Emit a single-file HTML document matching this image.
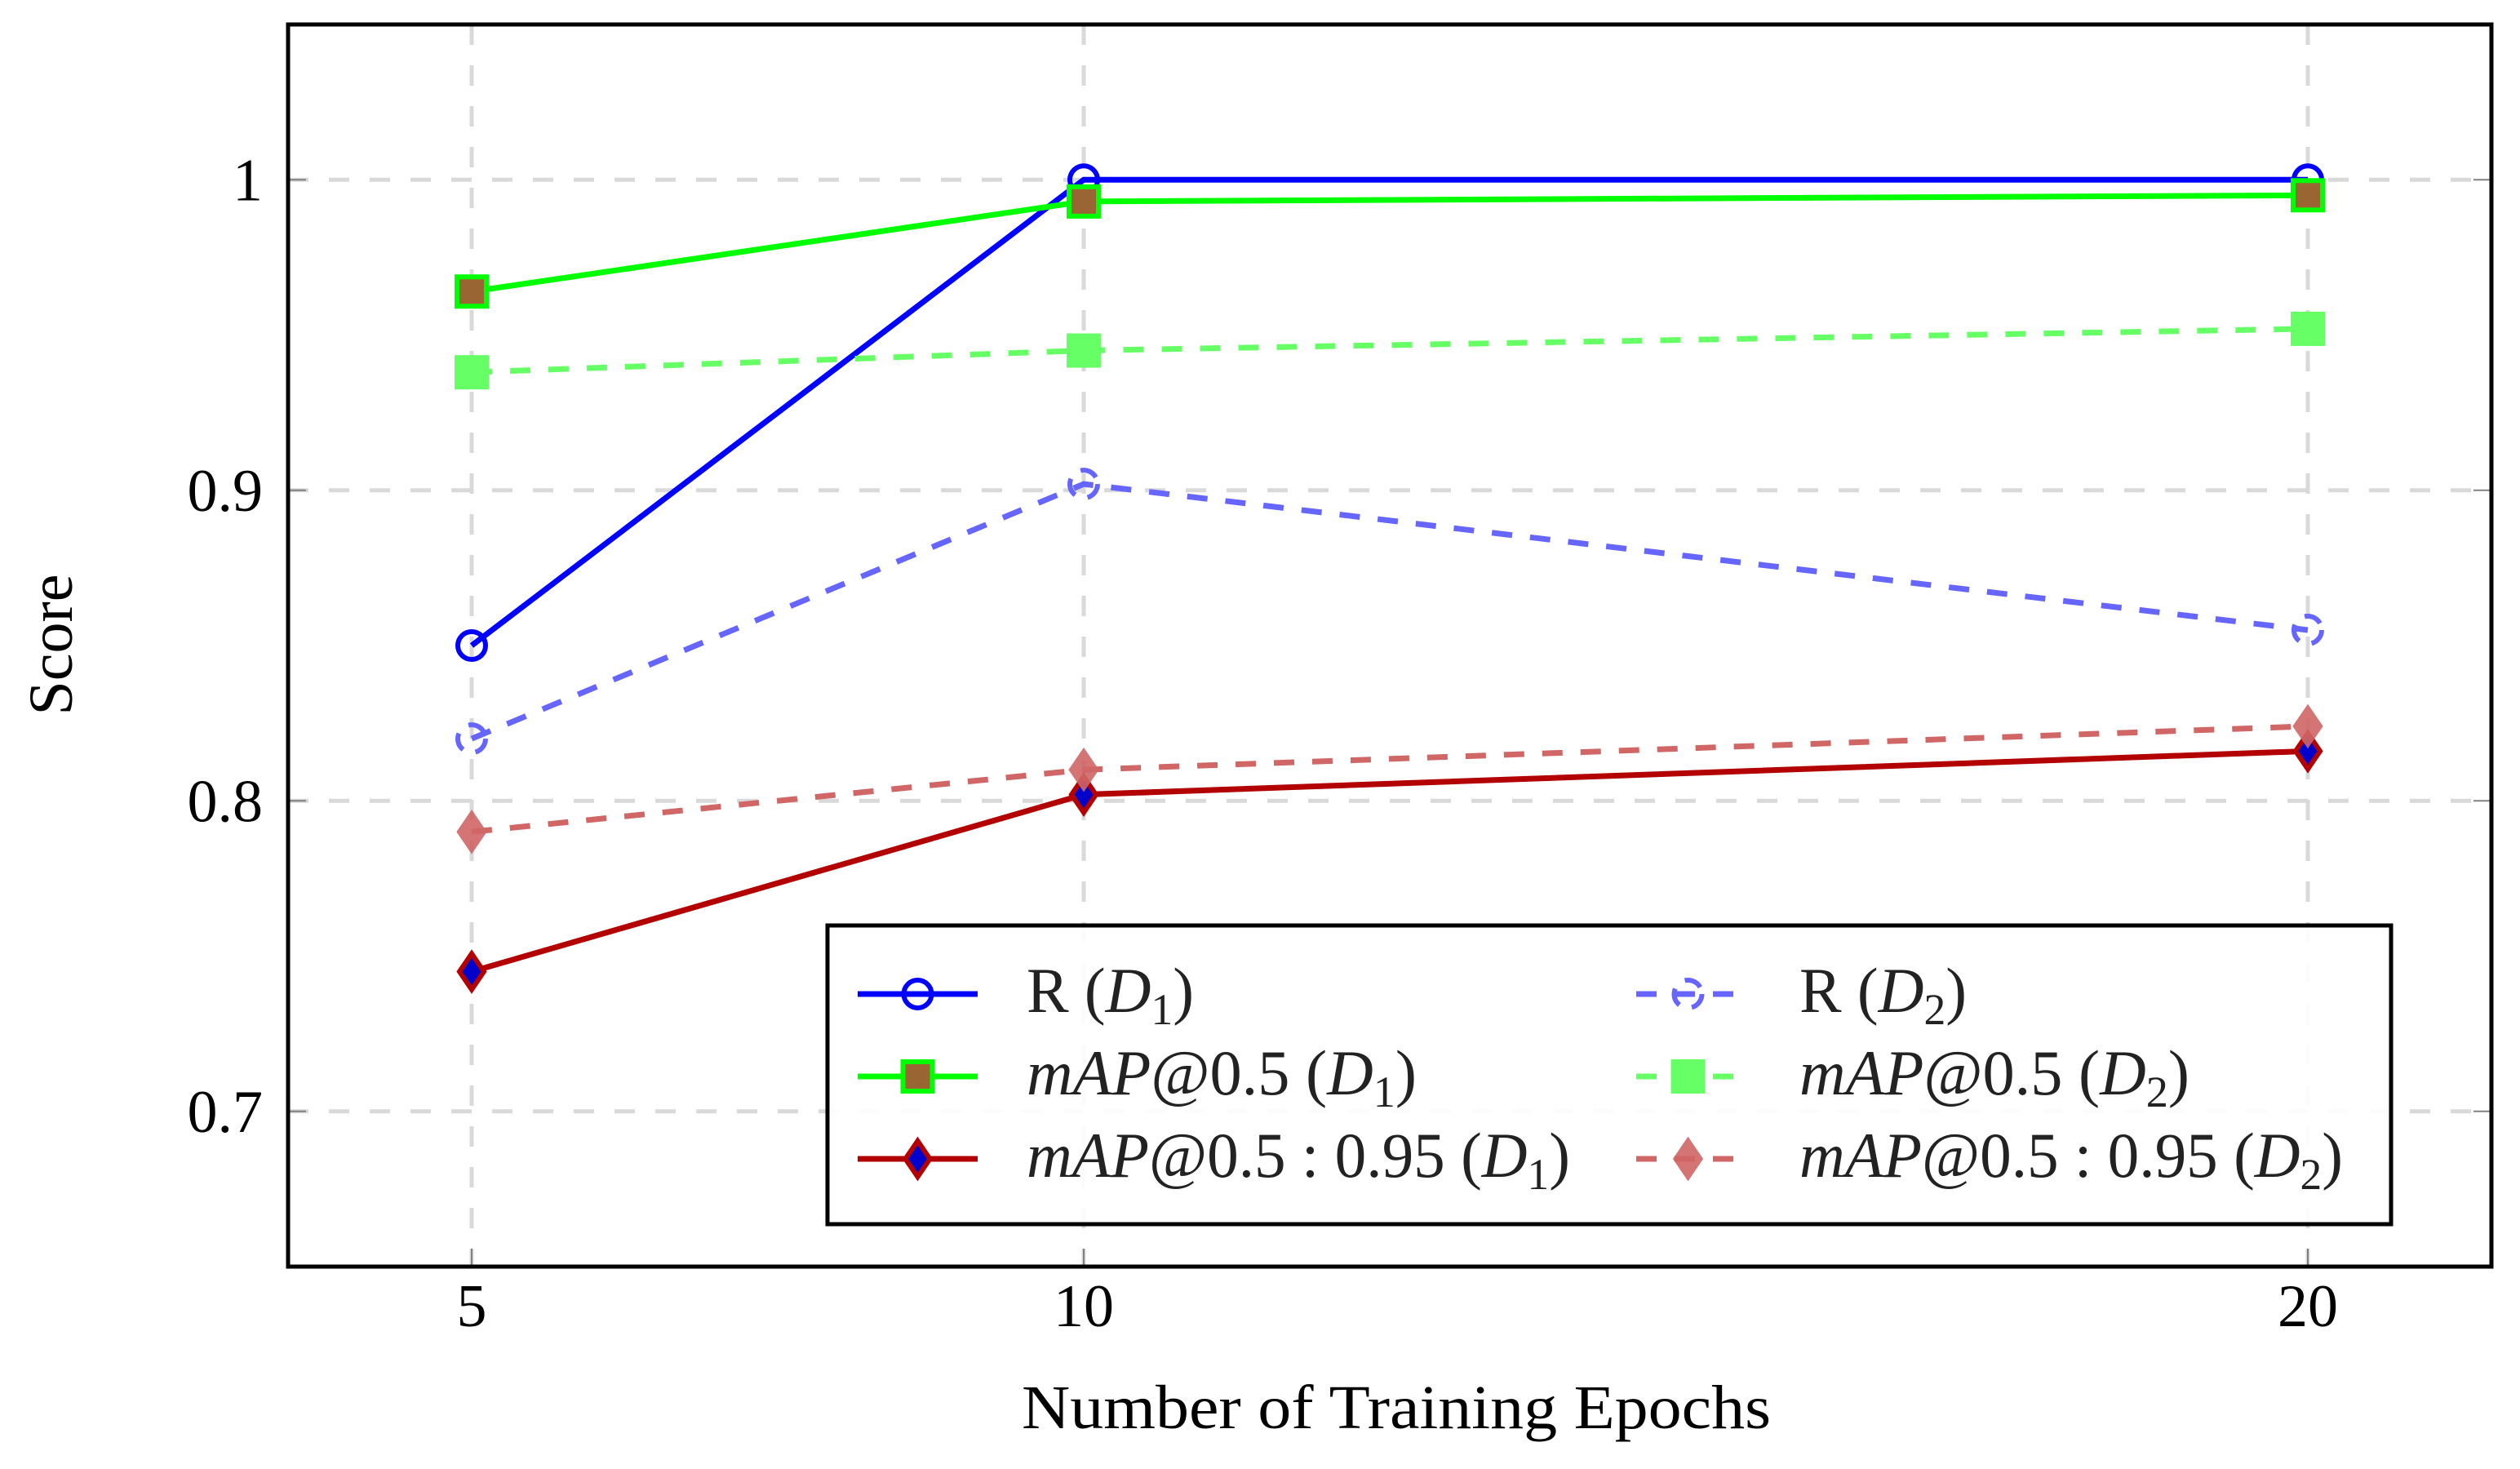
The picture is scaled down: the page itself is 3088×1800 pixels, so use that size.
<!DOCTYPE html>
<html><head><meta charset="utf-8"><style>
html,body{margin:0;padding:0;background:#fff;}
svg{display:block;font-family:"Liberation Serif",serif;}
</style></head><body>
<svg id="chart" width="3088" height="1800" viewBox="0 0 3088 1800" xmlns="http://www.w3.org/2000/svg">
<g id="grid"></g>
<g id="series"></g>
<g id="axes"></g>
<g id="legend"></g>
<text x="1252" y="1750" font-size="76" textLength="918" lengthAdjust="spacingAndGlyphs">Number of Training Epochs</text>
<text x="0" y="0" font-size="76" text-anchor="middle" transform="translate(88,790) rotate(-90)">Score</text>
</svg>
<script>
const epochs = [5, 10, 20];
const xTicks = [5, 10, 20];
const yTicks = [0.7, 0.8, 0.9, 1];
const yTickLabels = ["0.7", "0.8", "0.9", "1"];
const rD1 = [0.850, 1.000, 1.000];
const rD2 = [0.820, 0.902, 0.855];
const mapD1 = [0.964, 0.993, 0.995];
const mapD2 = [0.938, 0.945, 0.952];
const map95D1 = [0.745, 0.802, 0.816];
const map95D2 = [0.790, 0.810, 0.824];

const NS = "http://www.w3.org/2000/svg";
const L = 353, R = 3053, T = 30, B = 1552;
const xMin = 3.5, xMax = 21.5, yMin = 0.65, yMax = 1.05;
const sx = v => L + (v - xMin) / (xMax - xMin) * (R - L);
const sy = v => B - (v - yMin) / (yMax - yMin) * (B - T);
function mk(tag, attrs, parent) {
  const e = document.createElementNS(NS, tag);
  for (const k in attrs) e.setAttribute(k, attrs[k]);
  parent.appendChild(e);
  return e;
}
const grid = document.getElementById('grid');
const axes = document.getElementById('axes');
const series = document.getElementById('series');
const legend = document.getElementById('legend');

xTicks.forEach(t => {
  const g = mk('line', {x1: sx(t), x2: sx(t), y1: T, y2: B, stroke: '#d9d9d9', 'stroke-width': 5, 'stroke-dasharray': '25 25'}, grid);
  
  
  const tk = mk('line', {x1: sx(t), x2: sx(t), y1: B, y2: B - 22, stroke: '#808080', 'stroke-width': 2}, axes);
  
  
  const lb = mk('text', {x: sx(t), y: 1625, 'font-size': 74, 'text-anchor': 'middle'}, axes);
  lb.textContent = String(t);
  
  
});
yTicks.forEach((t, i) => {
  const g = mk('line', {x1: L, x2: R, y1: sy(t), y2: sy(t), stroke: '#d9d9d9', 'stroke-width': 5, 'stroke-dasharray': '25 25'}, grid);
  
  
  const tk = mk('line', {x1: L, x2: L + 22, y1: sy(t), y2: sy(t), stroke: '#808080', 'stroke-width': 2}, axes);
  
  
  const tk2 = mk('line', {x1: R, x2: R - 22, y1: sy(t), y2: sy(t), stroke: '#808080', 'stroke-width': 2}, axes);
  
  
  const lb = mk('text', {x: 322, y: sy(t) + 25, 'font-size': 74, 'text-anchor': 'end'}, axes);
  lb.textContent = yTickLabels[i];
  
  
});
const frame = mk('rect', {x: L, y: T, width: R - L, height: B - T, fill: 'none', stroke: '#000', 'stroke-width': 5}, axes);



function marker(type, cx, cy, st, parent) {
  let m;
  if (type === 'circle') {
    m = mk('circle', {cx, cy, r: 17, fill: 'none', stroke: st.color, 'stroke-width': 6}, parent);
    if (st.dash) m.setAttribute('stroke-dasharray', '22 16');
  } else if (type === 'square') {
    m = mk('rect', {x: cx - 18, y: cy - 18, width: 36, height: 36, fill: st.fill, stroke: st.color, 'stroke-width': 6}, parent);
  } else {
    m = mk('polygon', {points: `${cx},${cy-22} ${cx+15},${cy} ${cx},${cy+22} ${cx-15},${cy}`, fill: st.fill, stroke: st.color, 'stroke-width': 6, 'stroke-linejoin': 'miter'}, parent);
  }
  if (st.op) m.setAttribute('opacity', st.op);
  return m;
}
const defs = [
  {vals: rD1, name: 'r-d1', color: '#0000ff', fill: 'none', type: 'circle', dash: false},
  {vals: rD2, name: 'r-d2', color: '#6666ff', fill: 'none', type: 'circle', dash: true},
  {vals: mapD1, name: 'map50-d1', color: '#00ff00', fill: '#996633', type: 'square', dash: false},
  {vals: mapD2, name: 'map50-d2', color: '#66ff66', fill: '#66ff66', type: 'square', dash: true},
  {vals: map95D1, name: 'map5095-d1', color: '#b30000', fill: '#0000cc', type: 'diamond', dash: false},
  {vals: map95D2, name: 'map5095-d2', color: '#d06666', fill: '#d06666', type: 'diamond', dash: true, op: 0.9}
];
defs.forEach(d => {
  const g = mk('g', {}, series);
  
  
  const pts = epochs.map((e, i) => sx(e) + ',' + sy(d.vals[i])).join(' ');
  const pl = mk('polyline', {points: pts, fill: 'none', stroke: d.color, 'stroke-width': 7}, g);
  if (d.dash) pl.setAttribute('stroke-dasharray', '25 22');
  
  
  epochs.forEach((e, i) => {
    const m = marker(d.type, sx(e), sy(d.vals[i]), d, g);
    
    
  });
});

// legend
const lb = mk('rect', {x: 1014, y: 1134, width: 1916, height: 366, fill: '#fff', 'fill-opacity': 0.9, stroke: '#000', 'stroke-width': 5}, legend);


const labels = [
  ['R (', 'D', '1', ')', false],
  ['R (', 'D', '2', ')', false],
  ['mAP@0.5 (', 'D', '1', ')', true],
  ['mAP@0.5 (', 'D', '2', ')', true],
  ['mAP@0.5 : 0.95 (', 'D', '1', ')', true],
  ['mAP@0.5 : 0.95 (', 'D', '2', ')', true]
];
const widths = [205, 205, 478, 478, 666, 666];
[0, 1, 2, 3, 4, 5].forEach(i => {
  const d = defs[i];
  const col = i % 2, row = Math.floor(i / 2);
  const cy = 1218 + row * 101;
  const lx1 = col ? 2005 : 1051, lx2 = col ? 2132 : 1198, mx = (lx1 + lx2) / 2;
  const tx = col ? 2205 : 1258;
  const g = mk('g', {}, legend);
  
  
  const ln = mk('line', {x1: lx1, x2: lx2, y1: cy, y2: cy, stroke: d.color, 'stroke-width': 7}, g);
  if (d.dash) ln.setAttribute('stroke-dasharray', '25 22');
  marker(d.type, mx, cy, d, g);
  const t = mk('text', {x: tx, y: cy + 22, 'font-size': 78, fill: '#222', textLength: widths[i], lengthAdjust: 'spacingAndGlyphs'}, g);
  const lab = labels[i];
  if (lab[4]) {
    const pre = lab[0].replace(' (', '');
    const s1 = mk('tspan', {'font-style': 'italic'}, t); s1.textContent = pre.slice(0, 3);
    const s2 = mk('tspan', {}, t); s2.textContent = pre.slice(3) + ' (';
  } else {
    const s0 = mk('tspan', {}, t); s0.textContent = lab[0];
  }
  const s3 = mk('tspan', {'font-style': 'italic'}, t); s3.textContent = lab[1];
  const s4 = mk('tspan', {'font-size': 54, dy: 15}, t); s4.textContent = lab[2];
  const s5 = mk('tspan', {dy: -15}, t); s5.textContent = lab[3];
});
</script>
</body></html>
